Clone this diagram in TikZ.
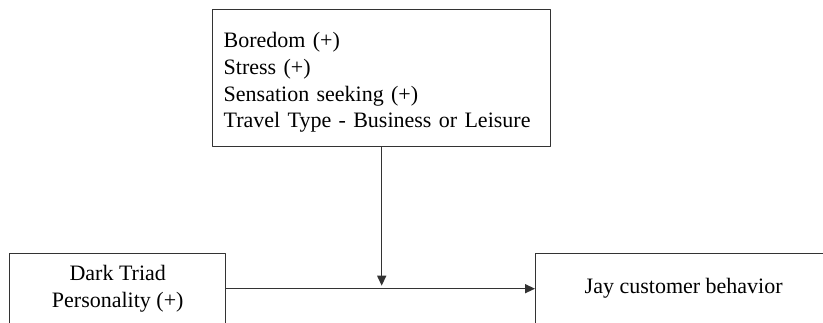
\documentclass[tikz,border=0pt]{standalone}
\usepackage{fontspec}
\setmainfont{Liberation Serif}
\usetikzlibrary{arrows.meta}
\begin{document}
\begin{tikzpicture}[x=1pt, y=-1pt, font=\fontsize{22}{26.7}\selectfont, line join=round, >={Triangle[length=10pt,width=9pt]},
	box/.style={draw=black!80, line width=1.4pt, inner sep=0pt},
	link/.style={->, draw=black!80, line width=1.4pt}]
	\useasboundingbox (0,0) rectangle (823,322);
	\clip (0,0) rectangle (823,322);
	\node[box, anchor=north west, minimum width=338pt, minimum height=137pt, text width=316pt, align=left] (mod) at (212,9)
		{\rule{0pt}{24pt}Boredom (+)\\Stress (+)\\Sensation seeking (+)\\Travel Type - Business or Leisure};
	\node[box, anchor=north west, minimum width=216pt, minimum height=70pt, align=center] (dark) at (9,253) {Dark Triad\\Personality (+)};
	\node[box, anchor=north west, minimum width=296pt, minimum height=70pt] (jay) at (535,253) {Jay customer behavior};
	\draw[link] (dark) -- (jay);
	\draw[link, shorten >=3pt] (mod.south) -- (mod.south |- dark.east);
\end{tikzpicture}
\end{document}
